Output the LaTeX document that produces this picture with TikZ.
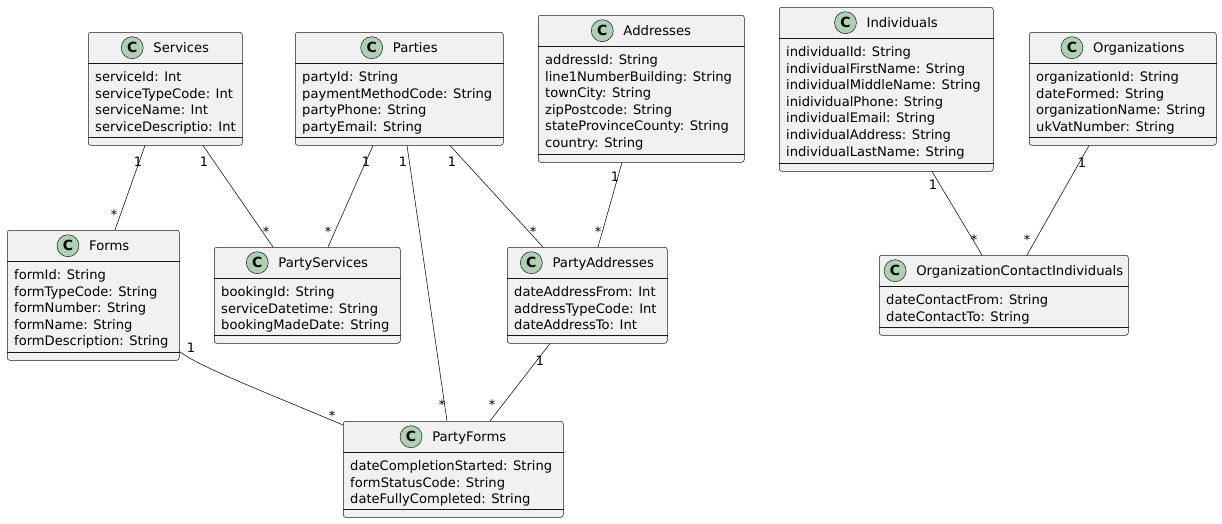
\documentclass[tikz,border=0pt]{standalone}
\usepackage{fontspec}
\setmainfont{DejaVu Sans}
\usetikzlibrary{calc}
\definecolor{boxfill}{HTML}{F1F1F1}
\definecolor{boxline}{HTML}{181818}
\definecolor{iconfill}{HTML}{ADD1B2}
\tikzset{
 classbox/.style={draw=boxline, fill=boxfill, line width=0.5pt, rounded corners=2.5pt, inner sep=0pt, anchor=north west},
 sepline/.style={draw=boxline, line width=0.5pt},
 titletext/.style={inner sep=0pt, anchor=base, font=\fontsize{13.2}{16}\selectfont},
 classicon/.style={circle, draw=boxline, fill=iconfill, line width=0.5pt, minimum size=22pt, inner sep=0pt, font=\bfseries\fontsize{14}{14}\selectfont},
 attrtext/.style={inner sep=0pt, anchor=base west, font=\fontsize{13.1}{16.6}\selectfont},
 assoc/.style={draw=boxline, line width=0.6pt},
 mult/.style={inner sep=0pt, anchor=base, font=\fontsize{13}{13}\selectfont},
}
% #1 name, #2 x, #3 y, #4 width, #5 height, #6 title, #7 attributes
\newcommand\umlclass[7]{%
 \node[classbox, minimum width=#4pt, minimum height=#5pt] (#1) at (#2,#3) {};
 \draw[sepline] ([yshift=-31.5pt]#1.north west) -- ([yshift=-31.5pt]#1.north east);
 \draw[sepline] ([yshift=8pt]#1.south west) -- ([yshift=8pt]#1.south east);
 \node[titletext] (#1-title) at ([xshift=16pt, yshift=-20.6pt]#1.north) {#6};
 \node[classicon] (#1-icon) at ([xshift=-21pt, yshift=4.9pt]#1-title.base west) {C};
 \foreach \a [count=\i] in {#7} {
  \node[attrtext] (#1-a\i) at ([xshift=7pt, yshift={-49.4pt-(\i-1)*16.6pt}]#1.north west) {\a};
 }
}
\newcommand\mone[3]{\node[mult] (#1) at (#2,#3+4.8) {1};}
\newcommand\mstar[3]{\node[mult] (#1) at (#2,#3+7.5) {*};}
\begin{document}
\begin{tikzpicture}[x=1pt,y=-1pt]
\useasboundingbox (0,0) rectangle (1222,523);

\umlclass{services}{88}{32}{154}{113}{Services}{serviceId: Int,serviceTypeCode: Int,serviceName: Int,serviceDescriptio: Int}
\umlclass{parties}{295}{32}{208}{113}{Parties}{partyId: String,paymentMethodCode: String,partyPhone: String,partyEmail: String}
\umlclass{addresses}{538}{15}{206}{147}{Addresses}{addressId: String,line1NumberBuilding: String,townCity: String,zipPostcode: String,stateProvinceCounty: String,country: String}
\umlclass{individuals}{779}{7}{214}{164}{Individuals}{individualId: String,individualFirstName: String,individualMiddleName: String,inidividualPhone: String,individualEmail: String,individualAddress: String,individualLastName: String}
\umlclass{organizations}{1029}{32}{187}{113}{Organizations}{organizationId: String,dateFormed: String,organizationName: String,ukVatNumber: String}
\umlclass{forms}{7}{230}{172}{130}{Forms}{formId: String,formTypeCode: String,formNumber: String,formName: String,formDescription: String}
\umlclass{partyservices}{214}{247}{186}{96}{PartyServices}{bookingId: String,serviceDatetime: String,bookingMadeDate: String}
\umlclass{partyaddresses}{507}{247}{160}{96}{PartyAddresses}{dateAddressFrom: Int,addressTypeCode: Int,dateAddressTo: Int}
\umlclass{partyforms}{343}{421}{220}{96}{PartyForms}{dateCompletionStarted: String,formStatusCode: String,dateFullyCompleted: String}
\umlclass{oci}{879}{255}{249}{80}{OrganizationContactIndividuals}{dateContactFrom: String,dateContactTo: String}

\draw[assoc] ([xshift=57pt]services.south west) -- ([xshift=108pt]forms.north west);
\draw[assoc] ([xshift=115pt]services.south west) -- ([xshift=59pt]partyservices.north west);
\draw[assoc] ([xshift=78pt]parties.south west) -- ([xshift=114pt]partyservices.north west);
\draw[assoc] ([xshift=112pt]parties.south west) -- ([xshift=104pt]partyforms.north west);
\draw[assoc] ([xshift=155pt]parties.south west) -- ([xshift=36pt]partyaddresses.north west);
\draw[assoc] ([xshift=84pt]addresses.south west) -- ([xshift=91pt]partyaddresses.north west);
\draw[assoc] ([yshift=9pt]forms.south east) .. controls (200,367) and (260,390) .. ([yshift=-4pt]partyforms.north west);
\draw[assoc] ([xshift=43pt]partyaddresses.south west) -- ([xshift=147pt]partyforms.north west);
\draw[assoc] ([xshift=153pt]individuals.south west) -- ([xshift=103pt]oci.north west);
\draw[assoc] ([xshift=60pt]organizations.south west) -- ([xshift=148pt]oci.north west);

\mone{m1}{138}{162} \mstar{m2}{114}{212}
\mone{m3}{204}{162} \mstar{m4}{266}{229}
\mone{m5}{366}{162} \mstar{m6}{328}{229}
\mone{m7}{403}{162} \mstar{m8}{442}{402}
\mone{m9}{452}{162} \mstar{m10}{533}{229}
\mone{m11}{615}{177} \mstar{m12}{598}{229}
\mone{m13}{191}{348} \mstar{m14}{332}{413}
\mone{m15}{540}{361} \mstar{m16}{492}{402}
\mone{m17}{933}{185} \mstar{m18}{974}{237}
\mone{m19}{1082}{163} \mstar{m20}{1027}{237}
\end{tikzpicture}
\end{document}
